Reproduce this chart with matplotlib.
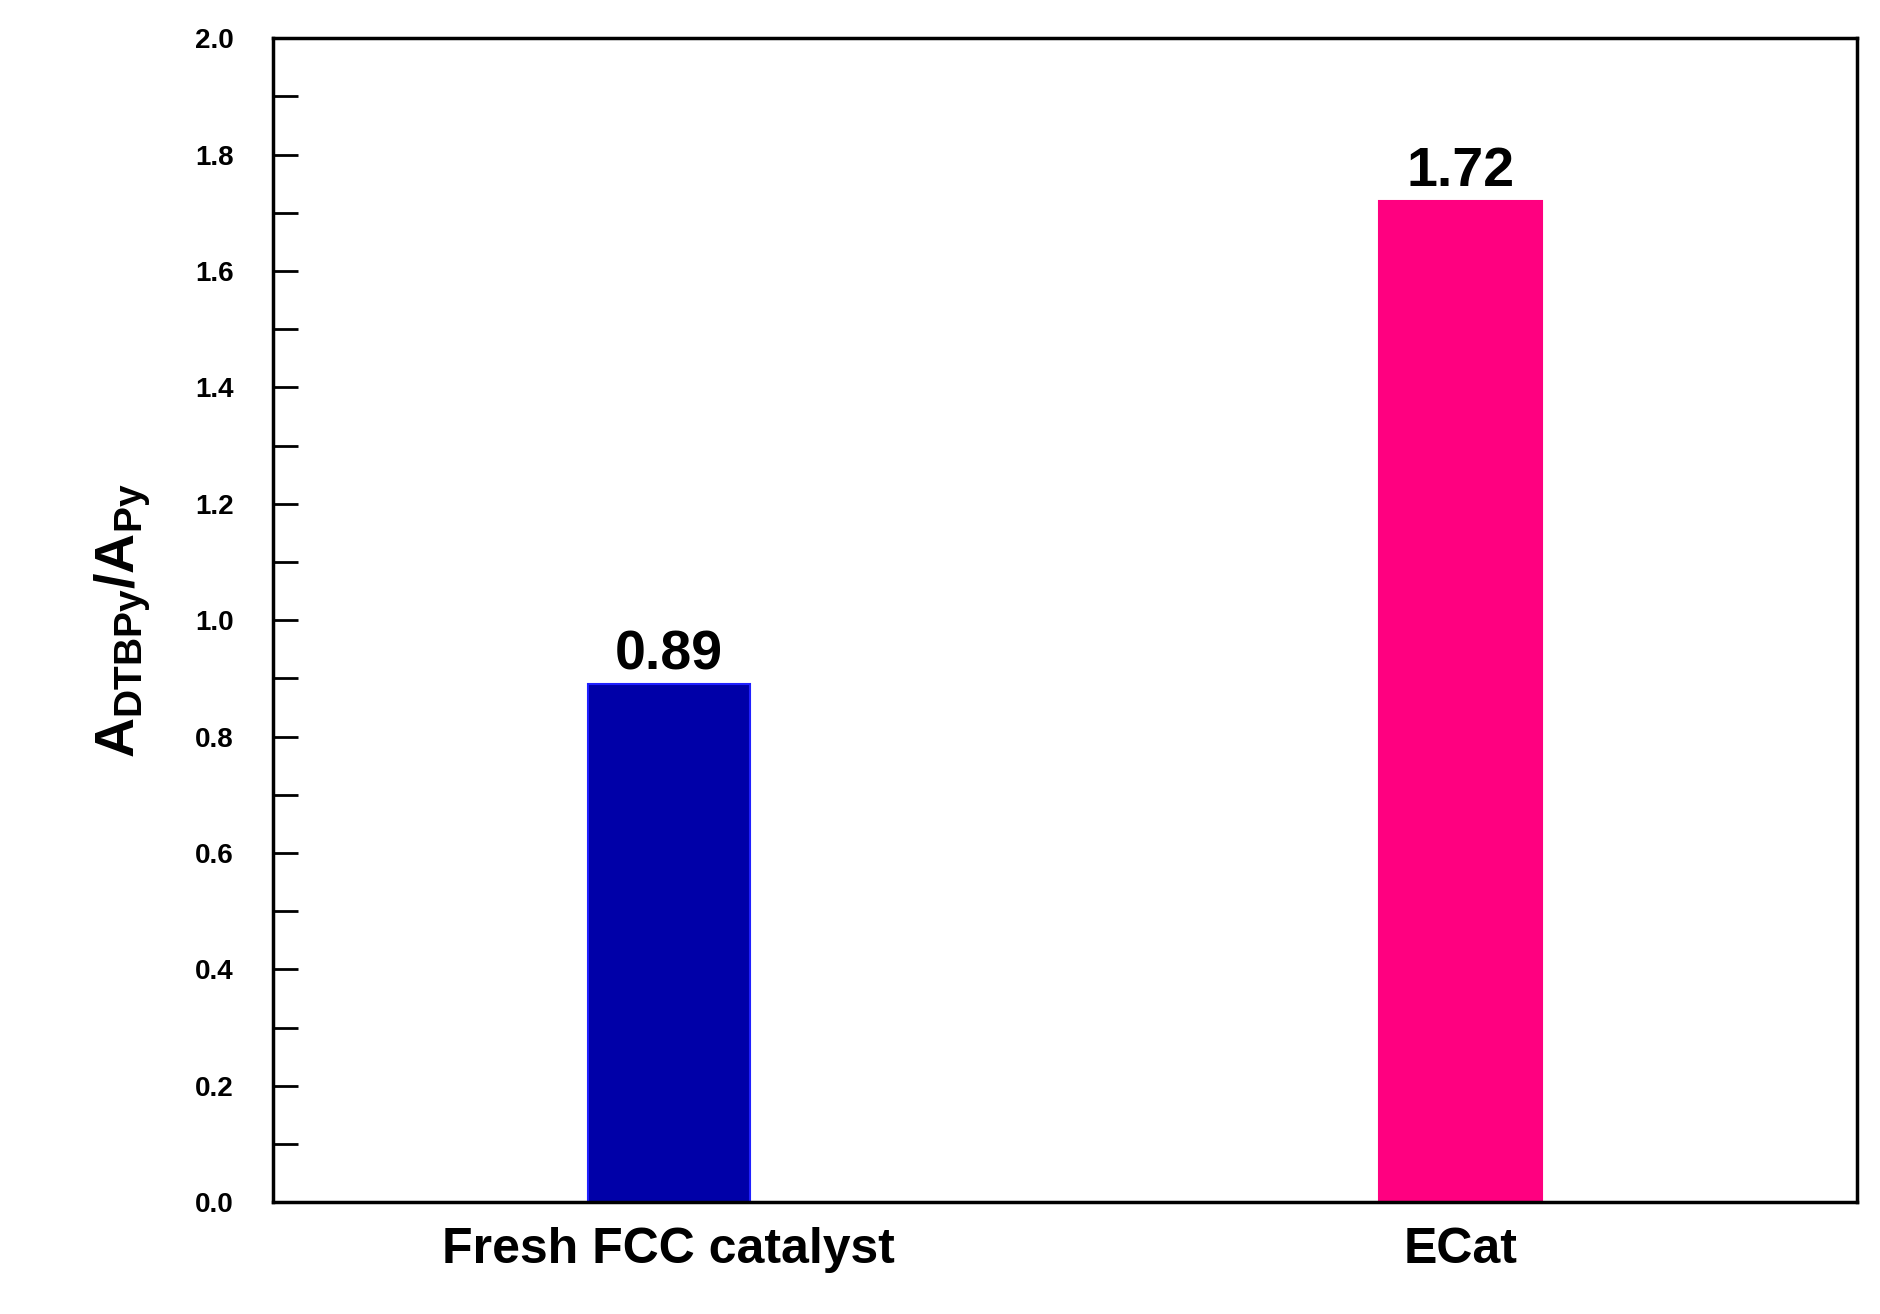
import matplotlib
matplotlib.use('Agg')
import matplotlib.pyplot as plt
from matplotlib.ticker import MultipleLocator

plt.rcParams['font.family'] = ['Liberation Sans', 'DejaVu Sans']
plt.rcParams['font.weight'] = 'bold'
plt.rcParams['mathtext.fontset'] = 'custom'
plt.rcParams['mathtext.rm'] = 'Liberation Sans:bold'
plt.rcParams['mathtext.bf'] = 'Liberation Sans:bold'
plt.rcParams['mathtext.it'] = 'Liberation Sans:bold'

categories = ['Fresh FCC catalyst', 'ECat']
values = [0.89, 1.72]
colors = ['#0000a8', '#ff0080']
edges = ['#2020ff', '#ff0080']

fig = plt.figure(figsize=(18.81, 13.14), dpi=100)
ax = fig.add_axes([0.145, 0.085, 0.842, 0.886])

x = range(len(categories))
ax.bar(x, values, width=0.205, color=colors, edgecolor=edges, linewidth=1.5)
for xi, v in zip(x, values):
    ax.text(xi, v + 0.005, f'{v:.2f}', ha='center', va='bottom', fontsize=40, fontweight='bold')

ax.set_xlim(-0.5, 1.5)
ax.set_ylim(0, 2.0)
ax.set_xticks(list(x))
ax.set_xticklabels(categories, fontsize=36, fontweight='bold')
ax.tick_params(axis='x', length=0, pad=18)
ax.yaxis.set_major_locator(MultipleLocator(0.2))
ax.yaxis.set_minor_locator(MultipleLocator(0.1))
ax.yaxis.set_major_formatter(matplotlib.ticker.FormatStrFormatter('%.1f'))
ax.tick_params(axis='y', which='major', direction='in', length=18, width=2, labelsize=20, pad=28)
ax.tick_params(axis='y', which='minor', direction='in', length=18, width=2)
for s in ax.spines.values():
    s.set_linewidth(2.5)
ax.set_ylabel(r'$\mathbf{A_{DTBPy}/A_{Py}}$', fontsize=40, labelpad=30)

fig.savefig('out.png', dpi=100)
